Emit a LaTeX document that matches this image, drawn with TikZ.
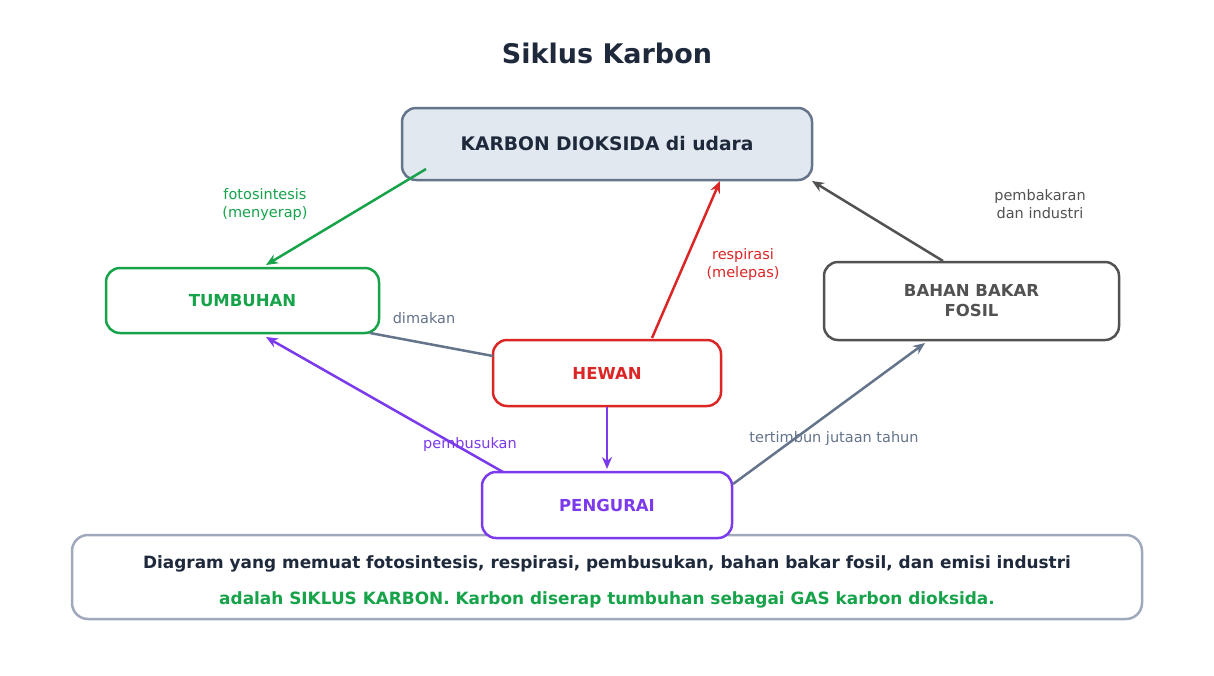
\documentclass[tikz,border=0pt]{standalone}
\usepackage{fontspec}
\setmainfont{DejaVu Sans}
\usetikzlibrary{arrows.meta}
\definecolor{dk}{HTML}{1E293B}
\definecolor{gr}{HTML}{16A34A}
\definecolor{rd}{HTML}{DC2626}
\definecolor{pu}{HTML}{7C3AED}
\definecolor{sl}{HTML}{64748B}
\definecolor{fo}{HTML}{525252}
\definecolor{co}{HTML}{E2E8F0}
\definecolor{bx}{HTML}{A0A8BC}
\begin{document}
\begin{tikzpicture}[x=1pt,y=-1pt,
 box/.style={draw,line width=2.5pt,rounded corners=14pt,fill=white,inner sep=0pt,font=\bfseries\fontsize{16.5}{20}\selectfont,align=center},
 arr/.style={line width=2.5pt,-{Stealth[length=12pt,width=10pt]}},
 lab/.style={font=\fontsize{14.5}{18}\selectfont,align=center}]
\useasboundingbox[fill=white] (0,0) rectangle (1214,675);
\node[font=\bfseries\fontsize{27}{30}\selectfont,text=dk] (t) at (607,53) {Siklus Karbon};
\node[draw=bx,line width=2.5pt,rounded corners=16pt,fill=white,minimum width=1070pt,minimum height=84pt] (bt) at (607,577) {};
\node[font=\bfseries\fontsize{16.9}{20}\selectfont,text=dk] (b1) at (607,564) {Diagram yang memuat fotosintesis, respirasi, pembusukan, bahan bakar fosil, dan emisi industri};
\node[font=\bfseries\fontsize{16.9}{20}\selectfont,text=gr] (b2) at (607,600) {adalah SIKLUS KARBON. Karbon diserap tumbuhan sebagai GAS karbon dioksida.};
\node[box,draw=sl,fill=co,text=dk,minimum width=410pt,minimum height=72pt,font=\bfseries\fontsize{18.7}{22}\selectfont] (co2) at (607,144) {KARBON DIOKSIDA di udara};
\node[box,draw=gr,text=gr,minimum width=273pt,minimum height=65pt] (tb) at (242.5,300.5) {TUMBUHAN};
\node[box,draw=fo,text=fo,minimum width=295pt,minimum height=78pt] (bf) at (971.5,301) {BAHAN BAKAR\\FOSIL};
\node[box,draw=rd,text=rd,minimum width=228pt,minimum height=66pt] (hw) at (607,373) {HEWAN};
\node[box,draw=pu,text=pu,minimum width=250pt,minimum height=66pt] (pg) at (607,505) {PENGURAI};
\coordinate (c1) at (426,169); \coordinate (c2) at (266,265);
\coordinate (c3) at (652,338); \coordinate (c4) at (720,181);
\coordinate (c5) at (943,261); \coordinate (c6) at (812,181);
\coordinate (c7) at (493,356); \coordinate (c8) at (370,333);
\coordinate (c9) at (503,472); \coordinate (c10) at (266,337);
\coordinate (c11) at (607,407); \coordinate (c12) at (607,469);
\coordinate (c13) at (733,484); \coordinate (c14) at (925,343);
\draw[arr,gr] (c1) -- (c2);
\draw[arr,rd] (c3) -- (c4);
\draw[arr,fo] (c5) -- (c6);
\draw[line width=2.5pt,sl] (c7) -- (c8);
\draw[arr,pu] (c9) -- (c10);
\draw[arr,pu] (c11) -- (c12);
\draw[arr,sl] (c13) -- (c14);
\node[lab,text=gr] (l1) at (265,204) {fotosintesis\\(menyerap)};
\node[lab,text=rd] (l2) at (743,264) {respirasi\\(melepas)};
\node[lab,text=fo] (l3) at (1040,204) {pembakaran\\dan industri};
\node[lab,text=sl] (l4) at (424,318) {dimakan};
\node[lab,text=pu] (l5) at (470,444) {pembusukan};
\node[lab,text=sl] (l6) at (834,438) {tertimbun jutaan tahun};
\end{tikzpicture}
\end{document}
